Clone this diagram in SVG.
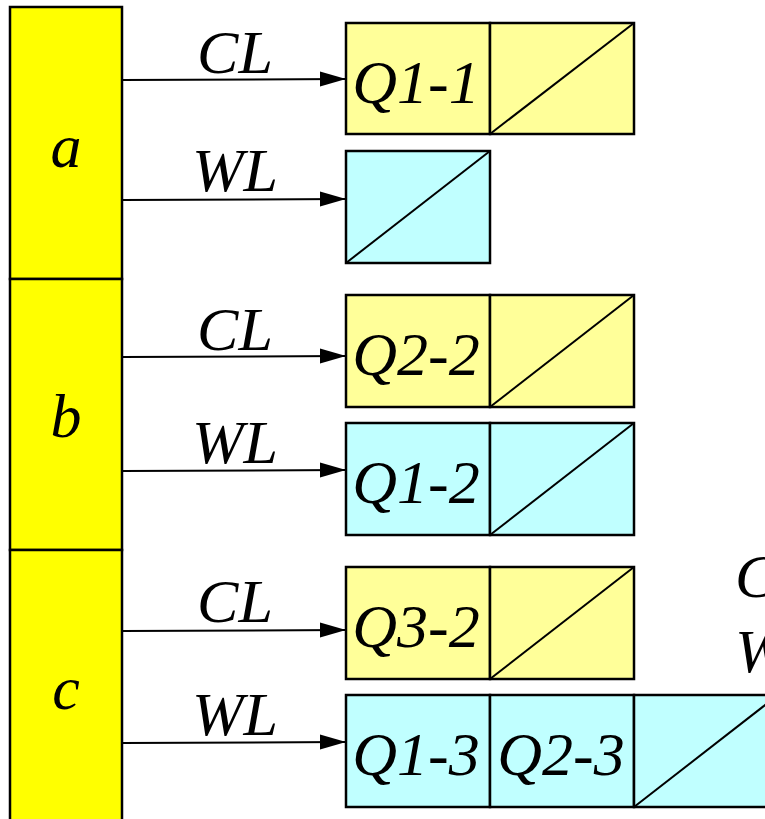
<svg xmlns="http://www.w3.org/2000/svg" width="765" height="819" viewBox="0 0 765 819">
<defs>
<marker id="ah" markerWidth="26" markerHeight="16" refX="25" refY="8" orient="auto" markerUnits="userSpaceOnUse">
<path d="M0,0.5 L26,8 L0,15.5 Z" fill="#000"/>
</marker>
<style>
.t{font-family:"Liberation Serif","Times New Roman",serif;font-style:italic;font-size:62px;fill:#000}
.m{text-anchor:middle}
.col{fill:#FFFF00;stroke:#000;stroke-width:2.5}
.y{fill:#FFFF99;stroke:#000;stroke-width:2.5}
.c{fill:#C0FFFF;stroke:#000;stroke-width:2.5}
.d{stroke:#000;stroke-width:2;fill:none}
.ar{stroke:#000;stroke-width:2;fill:none;marker-end:url(#ah)}
</style>
</defs>
<rect width="765" height="819" fill="#fff"/>
<g id="node-a">
<rect class="col" x="10" y="7" width="112" height="272"/>
<text class="t m" x="66" y="167">a</text>
</g>
<g id="node-b">
<rect class="col" x="10" y="279" width="112" height="271"/>
<text class="t m" x="66" y="437">b</text>
</g>
<g id="node-c">
<rect class="col" x="10" y="550" width="112" height="280"/>
<text class="t m" x="66" y="709">c</text>
</g>
<g id="a-cl">
<rect class="y" x="346" y="23" width="144" height="111"/>
<rect class="y" x="490" y="23" width="144" height="111"/>
<line class="d" x1="490" y1="134" x2="634" y2="23"/>
<text class="t m" x="416" y="103">Q1-1</text>
</g>
<g id="a-wl">
<rect class="c" x="346" y="151" width="144" height="112"/>
<line class="d" x1="346" y1="263" x2="490" y2="151"/>
</g>
<g id="b-cl">
<rect class="y" x="346" y="295" width="144" height="112"/>
<rect class="y" x="490" y="295" width="144" height="112"/>
<line class="d" x1="490" y1="407" x2="634" y2="295"/>
<text class="t m" x="416" y="375">Q2-2</text>
</g>
<g id="b-wl">
<rect class="c" x="346" y="423" width="144" height="112"/>
<rect class="c" x="490" y="423" width="144" height="112"/>
<line class="d" x1="490" y1="535" x2="634" y2="423"/>
<text class="t m" x="416" y="503">Q1-2</text>
</g>
<g id="c-cl">
<rect class="y" x="346" y="567" width="144" height="112"/>
<rect class="y" x="490" y="567" width="144" height="112"/>
<line class="d" x1="490" y1="679" x2="634" y2="567"/>
<text class="t m" x="416" y="647">Q3-2</text>
</g>
<g id="c-wl">
<rect class="c" x="346" y="695" width="144" height="112"/>
<rect class="c" x="490" y="695" width="144" height="112"/>
<rect class="c" x="634" y="695" width="144" height="112"/>
<line class="d" x1="634" y1="807" x2="778" y2="695"/>
<text class="t m" x="416" y="775">Q1-3</text>
<text class="t m" x="561" y="775">Q2-3</text>
</g>
<g id="legend">
<text class="t" x="735" y="597">C</text>
<text class="t" x="735" y="672">W</text>
</g>
<g id="connectors">
<line class="ar" x1="122" y1="80" x2="345" y2="79"/>
<line class="ar" x1="122" y1="200" x2="345" y2="199"/>
<line class="ar" x1="122" y1="357" x2="345" y2="356"/>
<line class="ar" x1="122" y1="471" x2="345" y2="470"/>
<line class="ar" x1="122" y1="631" x2="345" y2="630"/>
<line class="ar" x1="122" y1="743" x2="345" y2="742"/>
<text class="t m" x="235" y="73">CL</text>
<text class="t m" x="235" y="191">WL</text>
<text class="t m" x="235" y="350">CL</text>
<text class="t m" x="235" y="463">WL</text>
<text class="t m" x="235" y="622">CL</text>
<text class="t m" x="235" y="735">WL</text>
</g>
</svg>
